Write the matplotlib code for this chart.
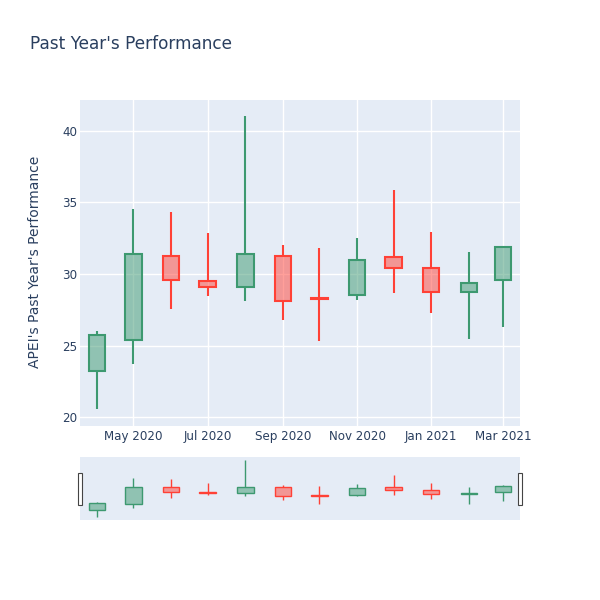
import numpy as np
import pandas as pd
import matplotlib
matplotlib.use("Agg")
import matplotlib.pyplot as plt
import matplotlib.dates as mdates
from matplotlib.patches import Rectangle

dates = pd.to_datetime(["2020-04-01", "2020-05-01", "2020-06-01", "2020-07-01",
                        "2020-08-01", "2020-09-01", "2020-10-01", "2020-11-01",
                        "2020-12-01", "2021-01-01", "2021-02-01", "2021-03-01"])
opens = [23.25, 25.37, 31.28, 29.54, 29.09, 31.26, 28.36, 28.56, 31.21, 30.42, 28.74, 29.56]
highs = [26.05, 34.56, 34.35, 32.88, 41.03, 32.00, 31.81, 32.53, 35.84, 32.91, 31.54, 31.95]
lows = [20.56, 23.72, 27.56, 28.49, 28.12, 26.79, 25.35, 28.19, 28.65, 27.26, 25.49, 26.32]
closes = [25.72, 31.37, 29.56, 29.07, 31.37, 28.14, 28.24, 30.98, 30.42, 28.74, 29.39, 31.91]

tick_dates = pd.to_datetime(["2020-05-01", "2020-07-01", "2020-09-01",
                             "2020-11-01", "2021-01-01", "2021-03-01"])
tick_labels = ["May 2020", "Jul 2020", "Sep 2020", "Nov 2020", "Jan 2021", "Mar 2021"]

plt.rcParams['font.family'] = ['DejaVu Sans']
txt = '#2a3f5f'
bg = '#E5ECF6'
up = '#3D9970'
down = '#FF4136'

x0 = pd.Timestamp("2020-03-18")
x1 = pd.Timestamp("2021-03-15")


def draw_candles(ax, lw):
    x = mdates.date2num(dates)
    for xi, o, h, l, c in zip(x, opens, highs, lows, closes):
        col = up if c >= o else down
        top, bot = max(o, c), min(o, c)
        ax.vlines(xi, top, h, color=col, lw=lw, zorder=2)
        ax.vlines(xi, l, bot, color=col, lw=lw, zorder=2)
        ax.bar(xi, top - bot, bottom=bot, width=13.5, facecolor=col, alpha=0.5,
               edgecolor='none', zorder=3)
        ax.bar(xi, top - bot, bottom=bot, width=13.5, facecolor='none',
               edgecolor=col, lw=lw, zorder=4)


fig = plt.figure(figsize=(6, 6), dpi=100)

ax = fig.add_axes([80/600, 1-426/600, 440/600, 326/600])
ax.set_facecolor(bg)
for s in ax.spines.values():
    s.set_visible(False)
draw_candles(ax, 1.5)
ax.set_xlim(mdates.date2num(x0), mdates.date2num(x1))
ax.set_ylim(19.4, 42.15)
ax.set_yticks([20, 25, 30, 35, 40])
ax.set_xticks(mdates.date2num(tick_dates))
ax.set_xticklabels(tick_labels)
ax.tick_params(length=0, labelsize=8.6, colors=txt)
ax.tick_params(axis='x', pad=3)
ax.tick_params(axis='y', pad=2)
ax.grid(True, color='white', lw=1)
ax.set_axisbelow(True)

# range slider
sl = fig.add_axes([80/600, 1-520/600, 440/600, 63/600])
sl.set_facecolor(bg)
for s in sl.spines.values():
    s.set_visible(False)
draw_candles(sl, 1.0)
sl.set_xlim(mdates.date2num(x0), mdates.date2num(x1))
sl.set_ylim(19.6, 42.1)
sl.set_xticks([])
sl.set_yticks([])
for hx in [78/600, 518/600]:
    fig.patches.append(Rectangle((hx, 1-505/600), 4/600, 32/600, transform=fig.transFigure,
                                 facecolor='white', edgecolor='#444444', lw=0.8))

fig.text(30/600, 1-44/600, "Past Year's Performance", fontsize=12.2, color=txt,
         ha='left', va='center')
fig.text(35/600, 1-262/600, "APEI's Past Year's Performance", fontsize=10, color=txt,
         rotation=90, ha='center', va='center')

fig.savefig("out.png", dpi=100, facecolor='white')
